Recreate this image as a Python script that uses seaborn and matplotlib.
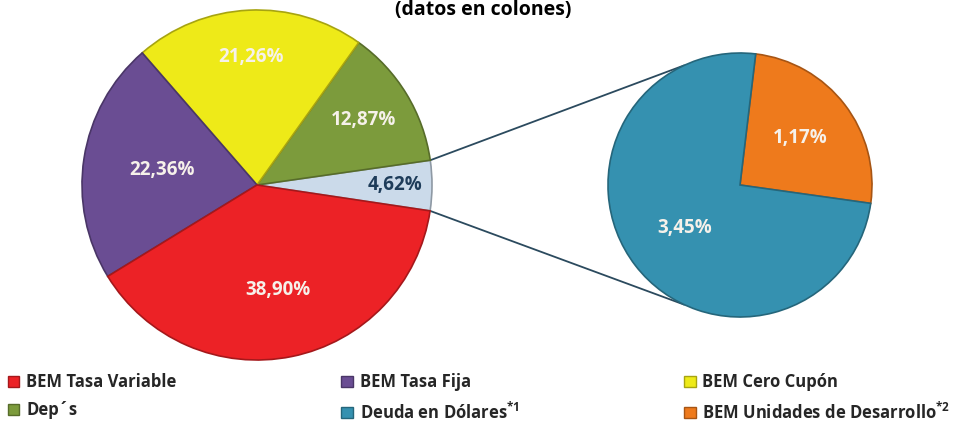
import numpy as np
import matplotlib
matplotlib.use("Agg")
import matplotlib.pyplot as plt
import matplotlib.colors as mcolors
from matplotlib.patches import Patch
import seaborn as sns

# main pie, counterclockwise from the right-hand slice
main_labels = ["Deuda en Dólares + UD", "Dep´s", "BEM Cero Cupón", "BEM Tasa Fija", "BEM Tasa Variable"]
main_values = [4.62, 12.87, 21.26, 22.36, 38.90]
main_text = ["4,62%", "12,87%", "21,26%", "22,36%", "38,90%"]

# secondary pie (breakdown of the 4,62%)
sub_labels = ["BEM Unidades de Desarrollo", "Deuda en Dólares"]
sub_values = [1.17, 3.45]
sub_text = ["1,17%", "3,45%"]

legend_labels = ["BEM Tasa Variable", "Dep´s", "BEM Tasa Fija",
                 "Deuda en Dólares$^{*1}$", "BEM Cero Cupón",
                 "BEM Unidades de Desarrollo$^{*2}$"]

colors = {
    "BEM Tasa Variable": "#EC2226",
    "BEM Tasa Fija": "#6A4D93",
    "BEM Cero Cupón": "#EEEA18",
    "Dep´s": "#7C9B3C",
    "Deuda en Dólares + UD": "#CBDAEA",
    "Deuda en Dólares": "#3591B0",
    "BEM Unidades de Desarrollo": "#EE7A1C",
}
legend_keys = ["BEM Tasa Variable", "Dep´s", "BEM Tasa Fija",
               "Deuda en Dólares", "BEM Cero Cupón", "BEM Unidades de Desarrollo"]


def darker(c, f=0.7):
    r, g, b = mcolors.to_rgb(c)
    return (r * f, g * f, b * f)


sns.set_theme(style="white")
plt.rcParams["font.family"] = ["Liberation Sans Narrow", "Open Sans", "DejaVu Sans"]
plt.rcParams["mathtext.default"] = "regular"

W, H = 967, 428
fig = plt.figure(figsize=(W / 100, H / 100), dpi=100)
ax = fig.add_axes([0, 0, 1, 1])

main_c = (257, H - 185)
main_r = 175
sub_c = (740, H - 185)
sub_r = 132

wedges, _ = ax.pie(main_values, colors=[colors[k] for k in main_labels],
                   startangle=-8.5, center=main_c, radius=main_r, frame=True)
main_dist = [0.79, 0.71, 0.73, 0.55, 0.61]
for w, txt, d, key in zip(wedges, main_text, main_dist, main_labels):
    w.set_edgecolor(darker(colors[key]))
    w.set_linewidth(1.2)
    ang = np.deg2rad((w.theta1 + w.theta2) / 2)
    tc = "#1E3C5A" if key == "Deuda en Dólares + UD" else "#F6F1EA"
    ax.text(main_c[0] + d * main_r * np.cos(ang), main_c[1] + d * main_r * np.sin(ang),
            txt, ha="center", va="center", fontsize=13.5, color=tc,
            family=["Open Sans", "DejaVu Sans"], fontweight="bold")

sub_w, _ = ax.pie(sub_values, colors=[colors[k] for k in sub_labels],
                  startangle=-8, center=sub_c, radius=sub_r, frame=True)
sub_dist = [0.58, 0.53]
for w, txt, d, key in zip(sub_w, sub_text, sub_dist, sub_labels):
    w.set_edgecolor(darker(colors[key]))
    w.set_linewidth(1.2)
    ang = np.deg2rad((w.theta1 + w.theta2) / 2)
    ax.text(sub_c[0] + d * sub_r * np.cos(ang), sub_c[1] + d * sub_r * np.sin(ang),
            txt, ha="center", va="center", fontsize=13.5, color="#F6F1EA",
            family=["Open Sans", "DejaVu Sans"], fontweight="bold")

# connector lines between the small slice and the second pie
small = wedges[0]
for a_main, a_sub in [(small.theta2, 115), (small.theta1, 245)]:
    p0 = (main_c[0] + main_r * np.cos(np.deg2rad(a_main)), main_c[1] + main_r * np.sin(np.deg2rad(a_main)))
    p1 = (sub_c[0] + sub_r * np.cos(np.deg2rad(a_sub)), sub_c[1] + sub_r * np.sin(np.deg2rad(a_sub)))
    ax.plot([p0[0], p1[0]], [p0[1], p1[1]], color="#2B4A5E", lw=1.3, zorder=0)

ax.set_xlim(0, W)
ax.set_ylim(0, H)
ax.set_aspect("equal")
ax.axis("off")

fig.text(0.5, 1.0, "(datos en colones)", ha="center", va="top",
         fontsize=14, fontweight="bold", color="black")

handles = [Patch(facecolor=colors[k], edgecolor=darker(colors[k])) for k in legend_keys]
fig.legend(handles, legend_labels, ncol=3, loc="lower left",
           bbox_to_anchor=(0.008, 0.013, 0.975, 0.15), mode="expand",
           frameon=False, handlelength=0.7, handleheight=0.7, handletextpad=0.4,
           labelspacing=0.6, borderpad=0, borderaxespad=0,
           prop=dict(weight="bold", size=12))

fig.savefig("out.png", dpi=100, facecolor="white")
